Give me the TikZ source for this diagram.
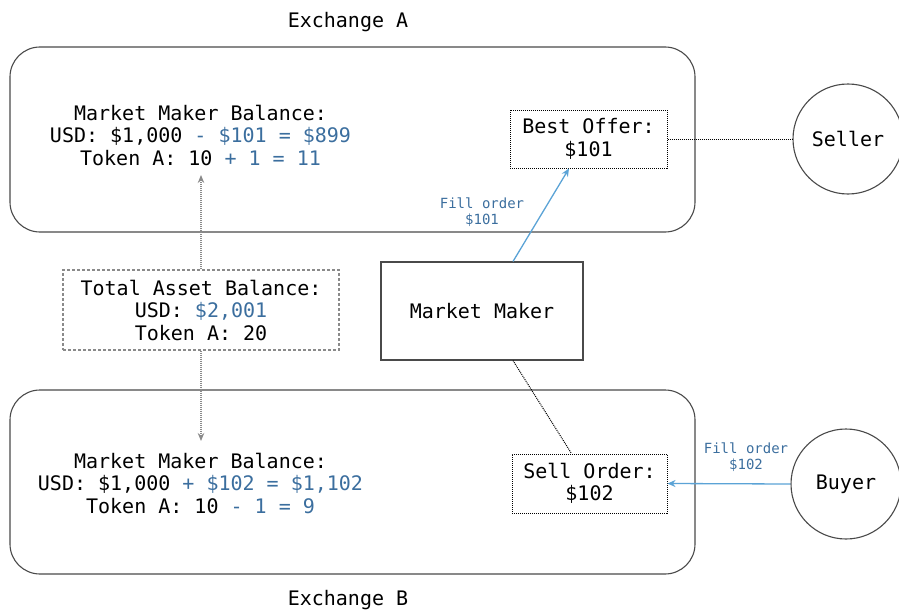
\documentclass[tikz,border=0pt]{standalone}
\usepackage{fontspec}
\setmainfont{DejaVu Sans Mono}
\usetikzlibrary{arrows.meta,calc}
\definecolor{txtblue}{HTML}{3B6E9E}
\definecolor{arrblue}{HTML}{5BA3D6}
\definecolor{linegray}{HTML}{4A4A4A}
\definecolor{dotgray}{HTML}{8A8A8A}
\tikzset{
  exbox/.style={draw=linegray, line width=1.1pt, rounded corners=30pt, minimum width=685pt, minimum height=185pt, inner sep=0pt},
  bigtxt/.style={font=\fontsize{20}{22.5}\selectfont, align=center, inner sep=0pt},
  smalltxt/.style={font=\fontsize{14}{16.5}\selectfont, align=center, inner sep=0pt, text=txtblue},
  orderbox/.style={draw=black, line width=1pt, dash pattern=on 1pt off 1pt, bigtxt, inner sep=0pt},
  totbox/.style={draw=dotgray, line width=1.1pt, dash pattern=on 3pt off 2pt, bigtxt, minimum width=276pt, minimum height=80pt},
  mmbox/.style={draw=linegray, line width=1.1pt, bigtxt, minimum width=202pt, minimum height=98pt},
  party/.style={circle, draw=linegray, line width=1.1pt, minimum size=110pt, bigtxt},
  bluearrow/.style={draw=arrblue, line width=1.3pt, -{Stealth[length=8pt,width=7pt]}},
  grayarrow/.style={draw=dotgray, line width=1.2pt, dash pattern=on 1pt off 1pt, -{Stealth[length=8pt,width=6.5pt]}},
  dotline/.style={draw=black, line width=1pt, dash pattern=on 1pt off 1pt},
}
\begin{document}
\begin{tikzpicture}[x=1pt,y=-1pt]
\useasboundingbox (0,0) rectangle (899,610);
% exchanges
\node[exbox] (exA) at (352.5,139.5) {};
\node[exbox, minimum height=184pt] (exB) at (352.5,482) {};
\node[bigtxt] (labA) at (348,22) {Exchange A};
\node[bigtxt] (labB) at (348,600) {Exchange B};
% balances
\node[bigtxt] (topbal) at (200.5,135) {Market Maker Balance:\\USD: \$1,000 \textcolor{txtblue}{- \$101 = \$899}\\Token A: 10 \textcolor{txtblue}{+ 1 = 11}};
\node[bigtxt] (botbal) at (200.5,483) {Market Maker Balance:\\USD: \$1,000 \textcolor{txtblue}{+ \$102 = \$1,102}\\Token A: 10 \textcolor{txtblue}{- 1 = 9}};
% total
\node[totbox] (total) at (201,310) {Total Asset Balance:\\USD: \textcolor{txtblue}{\$2,001}\\Token A: 20};
\coordinate (upend) at (201,175);
\coordinate (downend) at (201,441);
\draw[grayarrow] (total.north) -- (upend);
\draw[grayarrow] (total.south) -- (downend);
% market maker
\node[mmbox] (mm) at (482,311) {Market Maker};
% orders
\node[orderbox, minimum width=157pt, minimum height=58pt] (best) at (588.5,139) {Best Offer:\\\$101};
\node[orderbox, minimum width=155pt, minimum height=59pt] (sell) at (589.5,483.5) {Sell Order:\\\$102};
% parties
\node[party] (seller) at (848,139) {Seller};
\node[party] (buyer) at (846,484) {Buyer};
% connectors
\draw[dotline] (best.east) -- (seller.west);
\draw[dotline] ([xshift=31pt]mm.south) -- ([xshift=-18pt]sell.north);
\draw[bluearrow] ([xshift=31pt]mm.north) -- ([xshift=-19.5pt]best.south);
\draw[bluearrow] (buyer.west) -- (sell.east);
% labels
\node[smalltxt] (fill1) at (482,212) {Fill order\\\$101};
\node[smalltxt] (fill2) at (746,457) {Fill order\\\$102};
\end{tikzpicture}
\end{document}
